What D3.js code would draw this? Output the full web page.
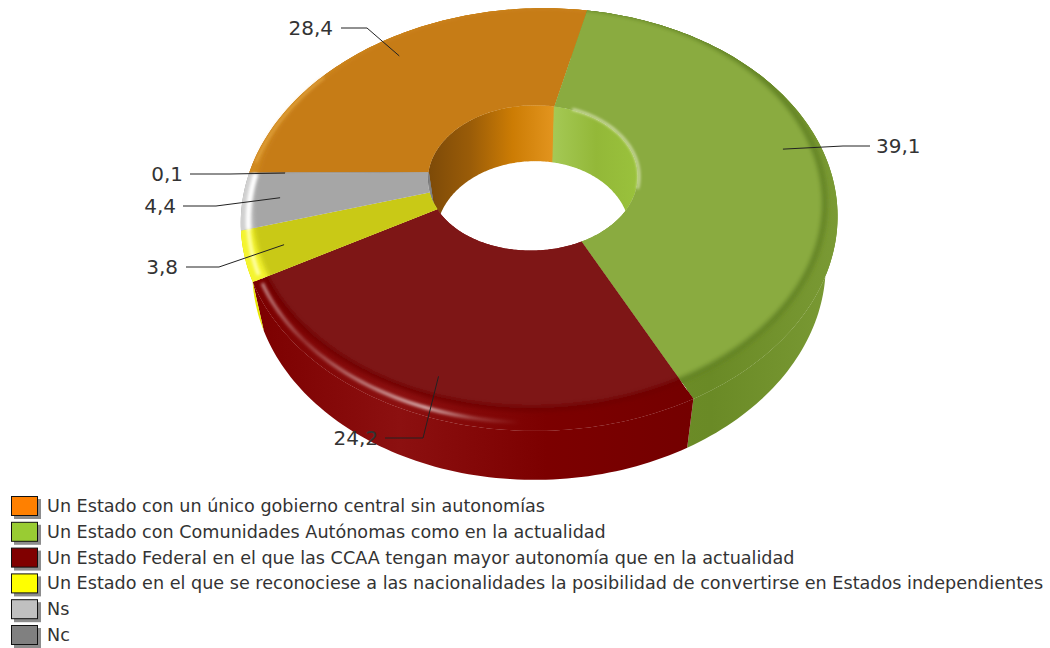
<!DOCTYPE html>
<html>
<head>
<meta charset="utf-8">
<script src="https://cdn.jsdelivr.net/npm/d3@7"></script>
<style>
  html, body { margin: 0; padding: 0; background: #fff; }
  svg { display: block; }
  text { font-family: "DejaVu Sans", sans-serif; fill: #333; }
</style>
</head>
<body>
<div id="chart"></div>
<script>
const categories = [
    "Un Estado con un único gobierno central sin autonomías",
    "Un Estado con Comunidades Autónomas como en la actualidad",
    "Un Estado Federal en el que las CCAA tengan mayor autonomía que en la actualidad",
    "Un Estado en el que se reconociese a las nacionalidades la posibilidad de convertirse en Estados independientes",
    "Ns",
    "Nc"
];
const values = [28.4, 39.1, 24.2, 3.8, 4.4, 0.1];
const valueLabels = ["28,4", "39,1", "24,2", "3,8", "4,4", "0,1"];
const legendColors = ["#ff8000", "#99cc33", "#800000", "#ffff00", "#c0c0c0", "#808080"];
const flatColors = ["#c67b18", "#8aab40", "#7e1516", "#c9c918", "#a6a6a6", "#8a8a8a"];
const rimColors = ["#d08a20", "#5f7f22", "#6e0000", "#f4f430", "#d0d0d0", "#a0a0a0"];

// side wall and hole wall shading, left to right
const sideStops = [
    ["#c87a10", "#c87a10"],
    ["#6f8f28", "#6a8a26", "#7a9a34"],
    ["#7c0000", "#8c1010", "#7c0000", "#740000"],
    ["#e8e800", "#e8e800"],
    ["#bbbbbb", "#bbbbbb"],
    ["#999999", "#999999"]
];
const wallStops = [
    ["#7d4a08", "#9a5c08", "#cc7c04", "#e3951f"],
    ["#a4c854", "#93b838", "#9ac23c"],
    ["#7e1516", "#7e1516"],
    ["#a8a810", "#a8a810"],
    ["#707070", "#8a8a8a"],
    ["#808080", "#808080"]
];

// elbow and text anchor of each leader, in page pixels
const elbowX = [367, 843, 423, 219, 216, 230];
const elbowY = [28, 146, 438, 267, 206, 174];
const leaderEndX = [341, 870, 385, 186, 183, 190];
const labelX = [333, 876, 378, 178, 176, 183];
const labelAnchor = ["end", "start", "end", "end", "end", "end"];

const width = 1050;
const height = 648;

const svg = d3.select("#chart").append("svg")
    .attr("width", width)
    .attr("height", height)
    .attr("viewBox", `0 0 ${width} ${height}`);

const defs = svg.append("defs");

// Tilted disc with perspective: plane coords (u, v) to page pixels
const disc = { cx: 532, cy: 172, sx: 289, sy: 199, q: 0.2266, shearX: 30, shearY: 25 };
const holeR = 0.36;
const sideDepth = 49;
const holeDepth = 56;

function project(angle, r, h = 0, squeeze = 0.0008) {
    const u = r * Math.sin(angle);
    const v = -r * Math.cos(angle);
    const w = 1 - disc.q * v;
    const x = disc.cx + (disc.sx * u + disc.shearX * v) / w;
    const y = disc.cy + (disc.sy * v - disc.shearY * u) / w;
    const shrink = 1 - h * squeeze;
    return [535 + (x - 535) * shrink, y + h];
}

function ring(a0, a1, r, h = 0, squeeze) {
    const n = Math.max(2, Math.ceil(Math.abs(a1 - a0) / 0.02));
    return d3.range(n + 1).map(i => project(a0 + (a1 - a0) * i / n, r, h, squeeze));
}

// edge of the flat face: close to the rim at the back, further in at the front
function faceRing(a0, a1) {
    const n = Math.max(2, Math.ceil(Math.abs(a1 - a0) / 0.02));
    return d3.range(n + 1).map(i => {
        const a = a0 + (a1 - a0) * i / n;
        return project(a, 0.965 + 0.04 * Math.cos(a));
    });
}

const line = d3.line();
const closed = pts => line(pts) + "Z";

const toRad = d => d * Math.PI / 180;

const pie = d3.pie().sort(null)
    .startAngle(toRad(-83))
    .endAngle(toRad(277));
const slices = pie(values);

function gradient(id, stops, x1, x2) {
    const g = defs.append("linearGradient")
        .attr("id", id)
        .attr("gradientUnits", "userSpaceOnUse")
        .attr("x1", x1).attr("x2", x2)
        .attr("y1", 0).attr("y2", 0);
    stops.forEach((c, i) => {
        g.append("stop")
            .attr("offset", i / (stops.length - 1))
            .attr("stop-color", c);
    });
}

function xRange(pts) {
    return d3.extent(pts, p => p[0]);
}

defs.append("filter").attr("id", "soft")
    .attr("x", "-10%").attr("y", "-10%").attr("width", "120%").attr("height", "120%")
    .append("feGaussianBlur").attr("stdDeviation", 2.5);
defs.append("filter").attr("id", "softer")
    .attr("x", "-10%").attr("y", "-10%").attr("width", "120%").attr("height", "120%")
    .append("feGaussianBlur").attr("stdDeviation", 1.4);

// Outer side wall, with a strip under the rim so no seam shows
const sideLayer = svg.append("g");
slices.forEach((d, i) => {
    const top = ring(d.startAngle, d.endAngle, 1);
    const bottom = ring(d.startAngle, d.endAngle, 1, sideDepth);
    const xr = xRange(top.concat(bottom));
    gradient(`side${i}`, sideStops[i], xr[0], xr[1]);
    sideLayer.append("path")
        .attr("d", closed(top.concat(bottom.reverse())))
        .attr("fill", `url(#side${i})`);
    sideLayer.append("path")
        .attr("d", closed(top.concat(ring(d.endAngle, d.startAngle, 0.97))))
        .attr("fill", `url(#side${i})`);
});

// Hole: wall seen through the top opening, then the white gap
defs.append("clipPath").attr("id", "holeClip")
    .append("path")
    .attr("d", closed(ring(0, 2 * Math.PI, holeR)));

const holeLayer = svg.append("g").attr("clip-path", "url(#holeClip)");
slices.forEach((d, i) => {
    const top = ring(d.startAngle, d.endAngle, holeR);
    const bottom = ring(d.startAngle, d.endAngle, holeR, holeDepth, 0.0014);
    const xr = xRange(top);
    gradient(`wall${i}`, wallStops[i], xr[0], Math.max(xr[1], xr[0] + 1));
    holeLayer.append("path")
        .attr("d", closed(top.concat(bottom.reverse())))
        .attr("fill", `url(#wall${i})`)
        .attr("stroke", `url(#wall${i})`)
        .attr("stroke-width", 1);
});
holeLayer.append("path")
    .attr("d", closed(ring(0, 2 * Math.PI, holeR, holeDepth, 0.0014)))
    .attr("fill", "#fff");

// Top surface: rim runs on from the side wall, blurred flat face on it
const topLayer = svg.append("g");
slices.forEach((d, i) => {
    const outer = ring(d.startAngle, d.endAngle, 1);
    const inner = ring(d.endAngle, d.startAngle, holeR);
    const sector = closed(outer.concat(inner));

    defs.append("clipPath").attr("id", `sector${i}`)
        .append("path").attr("d", sector);

    const g = topLayer.append("g").attr("clip-path", `url(#sector${i})`);
    const runsOn = i === 1 || i === 2;
    g.append("path").attr("d", sector)
        .attr("fill", runsOn ? `url(#side${i})` : rimColors[i]);

    const a0 = d.startAngle - 0.15;
    const a1 = d.endAngle + 0.15;
    if (runsOn) {
        g.append("path")
            .attr("d", line(faceRing(a0, a1)))
            .attr("fill", "none")
            .attr("stroke", rimColors[i])
            .attr("stroke-width", 9)
            .attr("filter", "url(#soft)");
    }
    g.append("path")
        .attr("d", closed(faceRing(a0, a1).concat(ring(a1, a0, 0.2))))
        .attr("fill", flatColors[i])
        .attr("filter", "url(#soft)");
});

// Highlights along the rim
defs.append("linearGradient").attr("id", "redShine")
    .attr("gradientUnits", "userSpaceOnUse")
    .attr("x1", 250).attr("x2", 520).attr("y1", 0).attr("y2", 0)
    .selectAll("stop")
    .data([[0, 0.6], [0.2, 0.2], [0.4, 0.45], [0.65, 0.7], [0.82, 0.25], [1, 0]])
    .join("stop")
    .attr("offset", d => d[0])
    .attr("stop-color", "#fff")
    .attr("stop-opacity", d => d[1]);

const shine = svg.append("g").attr("fill", "none").attr("filter", "url(#softer)");
const redSlice = slices[2];
const yellowSlice = slices[3];
const graySlice = slices[4];

shine.append("path")
    .attr("d", line(ring(redSlice.endAngle - 0.02, toRad(185), 0.975)))
    .attr("stroke", "url(#redShine)")
    .attr("stroke-width", 3.5);
shine.append("path")
    .attr("d", line(ring(yellowSlice.startAngle + 0.02, yellowSlice.endAngle, 0.975)))
    .attr("stroke", "#ffffb0")
    .attr("stroke-opacity", 0.9)
    .attr("stroke-width", 4);
shine.append("path")
    .attr("d", line(ring(graySlice.startAngle, graySlice.endAngle, 0.975)))
    .attr("stroke", "#fff")
    .attr("stroke-width", 5);
shine.append("path")
    .attr("d", line(ring(toRad(30), toRad(110), holeR + 0.004)))
    .attr("stroke", "#f4f8dc")
    .attr("stroke-opacity", 0.85)
    .attr("stroke-width", 2);
shine.append("path")
    .attr("d", line(ring(toRad(-80), toRad(-50), 0.99)))
    .attr("stroke", "#e8ae50")
    .attr("stroke-opacity", 0.8)
    .attr("stroke-width", 2);

// Leaders and value labels
const labels = svg.append("g");
slices.forEach((d, i) => {
    const mid = (d.startAngle + d.endAngle) / 2;
    const anchor = project(mid, 0.87);
    labels.append("path")
        .attr("d", line([anchor, [elbowX[i], elbowY[i]], [leaderEndX[i], elbowY[i]]]))
        .attr("fill", "none")
        .attr("stroke", "#222")
        .attr("stroke-width", 1);
    labels.append("text")
        .attr("x", labelX[i])
        .attr("y", elbowY[i] + 7)
        .attr("text-anchor", labelAnchor[i])
        .attr("font-size", 20)
        .text(valueLabels[i]);
});

// Legend
const legendY = d3.scalePoint()
    .domain(categories)
    .range([496, 625]);

const legend = svg.append("g");
categories.forEach((c, i) => {
    const y = legendY(c);
    legend.append("rect")
        .attr("x", 14).attr("y", y + 3)
        .attr("width", 27).attr("height", 20)
        .attr("fill", "#8c8c8c");
    legend.append("rect")
        .attr("x", 11.5).attr("y", y + 0.5)
        .attr("width", 26).attr("height", 19)
        .attr("fill", legendColors[i])
        .attr("stroke", "#111")
        .attr("stroke-width", 1);
    legend.append("text")
        .attr("x", 47)
        .attr("y", y + 16)
        .attr("font-size", 17.6)
        .text(c);
});
</script>
</body>
</html>
